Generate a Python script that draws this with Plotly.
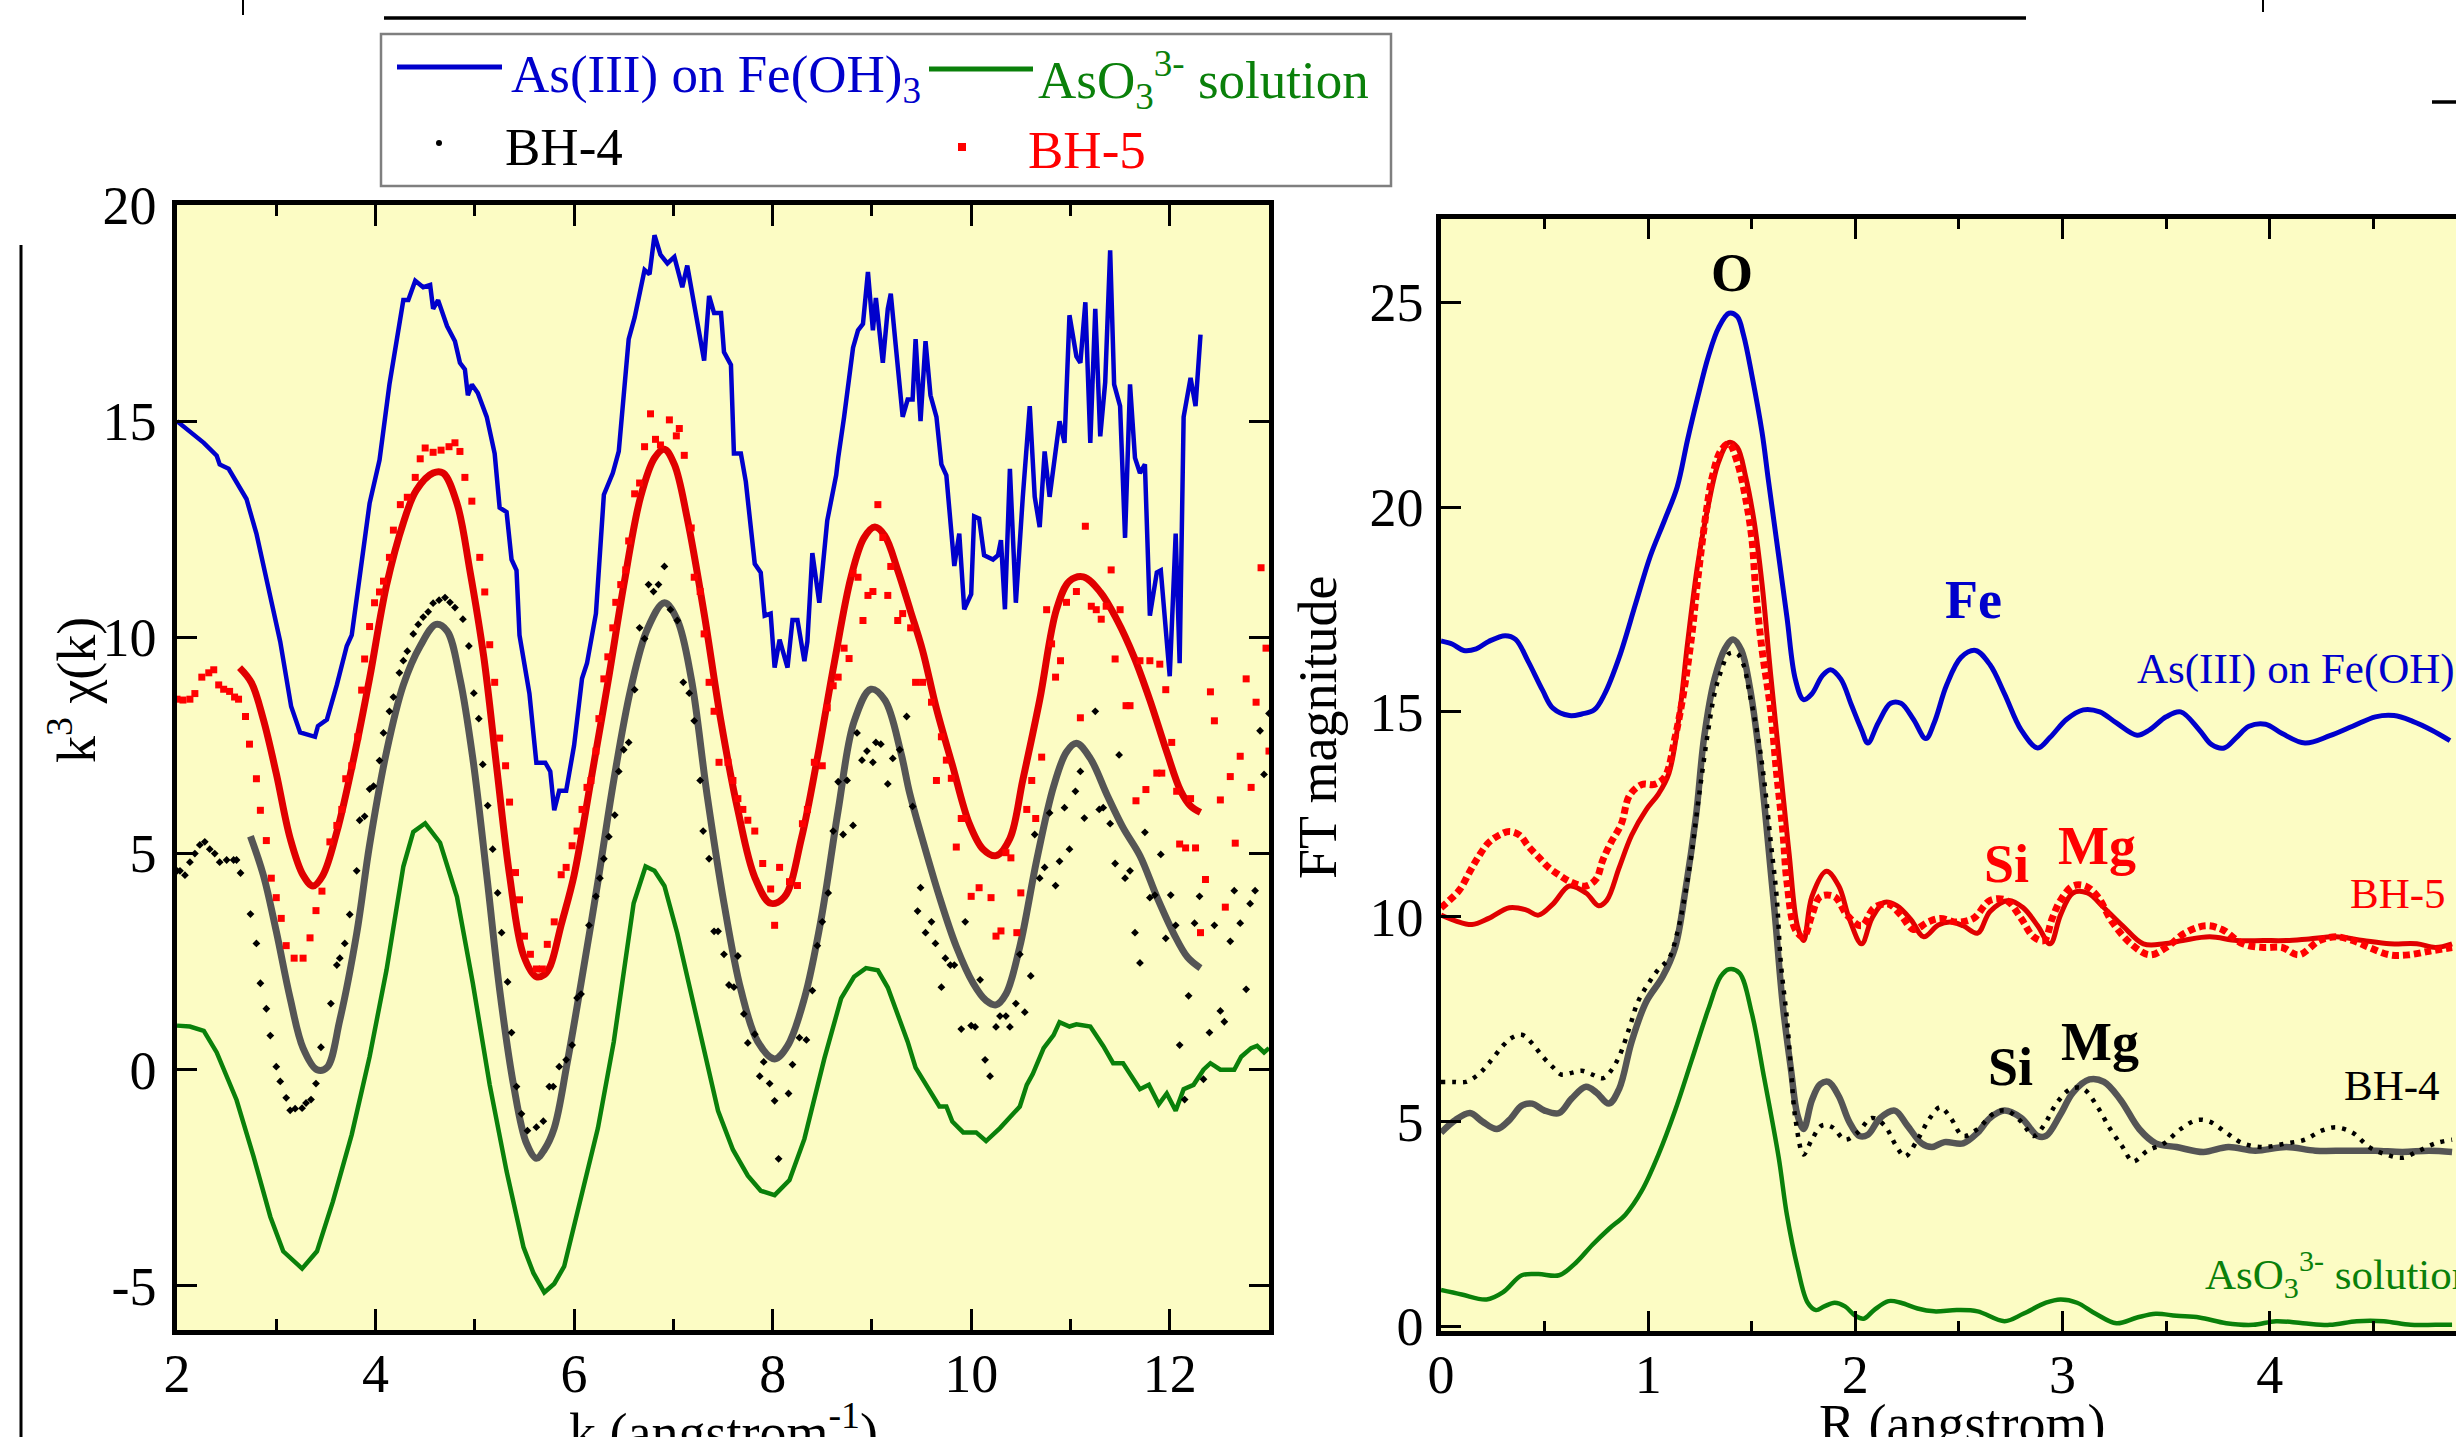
import plotly.graph_objects as go

W, H = 2456, 1437

# ---------------- k-space (left panel) data: (k, k^3 chi) ----------------
fe_k_pts = [
    (2.00, 15.0), (2.13, 14.75), (2.27, 14.5), (2.40, 14.2), (2.43, 14.0), (2.52, 13.9), (2.60, 13.6),
    (2.70, 13.2), (2.80, 12.4), (2.94, 11.0), (3.04, 9.9), (3.15, 8.4), (3.24, 7.8), (3.39, 7.7),
    (3.42, 7.95), (3.51, 8.1), (3.61, 8.9), (3.71, 9.8), (3.76, 10.05), (3.84, 11.4), (3.94, 13.1),
    (4.04, 14.1), (4.14, 15.85), (4.28, 17.8), (4.33, 17.8), (4.40, 18.25), (4.48, 18.1), (4.55, 18.15),
    (4.58, 17.6), (4.63, 17.8), (4.72, 17.2), (4.80, 16.85), (4.85, 16.35), (4.90, 16.2), (4.93, 15.6),
    (4.97, 15.85), (5.03, 15.65), (5.12, 15.1), (5.20, 14.25), (5.25, 13.0), (5.32, 12.9), (5.37, 11.8),
    (5.42, 11.55), (5.45, 10.05), (5.55, 8.7), (5.62, 7.1), (5.71, 7.1), (5.76, 6.9), (5.80, 6.0),
    (5.85, 6.45), (5.92, 6.45), (6.00, 7.5), (6.08, 9.05), (6.13, 9.4), (6.22, 10.55), (6.30, 13.3),
    (6.39, 13.8), (6.45, 14.3), (6.55, 16.9), (6.61, 17.4), (6.71, 18.5), (6.76, 18.4), (6.81, 19.3),
    (6.87, 18.85), (6.94, 18.65), (7.01, 18.8), (7.09, 18.1), (7.14, 18.6), (7.23, 17.4), (7.31, 16.4),
    (7.36, 17.9), (7.41, 17.5), (7.48, 17.5), (7.51, 16.6), (7.58, 16.3), (7.61, 14.25), (7.68, 14.25),
    (7.73, 13.6), (7.82, 11.7), (7.88, 11.5), (7.92, 10.5), (7.98, 10.55), (8.02, 9.3), (8.07, 9.95),
    (8.15, 9.3), (8.20, 10.4), (8.25, 10.4), (8.32, 9.45), (8.35, 9.9), (8.40, 11.95), (8.47, 10.8),
    (8.55, 12.7), (8.64, 13.75), (8.66, 14.15), (8.72, 15.1), (8.81, 16.7), (8.86, 17.1), (8.91, 17.25),
    (8.96, 18.45), (9.01, 17.1), (9.04, 17.85), (9.11, 16.35), (9.16, 17.6), (9.19, 17.95), (9.24, 16.75),
    (9.31, 15.1), (9.36, 15.5), (9.41, 15.5), (9.44, 16.9), (9.49, 15.0), (9.54, 16.85), (9.59, 15.6),
    (9.65, 15.1), (9.70, 14.0), (9.75, 13.75), (9.80, 12.55), (9.83, 11.65), (9.88, 12.4), (9.93, 10.65),
    (10.00, 11.0), (10.03, 12.8), (10.08, 12.75), (10.13, 11.9), (10.22, 11.8), (10.27, 11.9), (10.30, 12.25),
    (10.34, 10.65), (10.39, 13.9), (10.45, 10.8), (10.52, 13.25), (10.59, 15.35), (10.64, 13.25),
    (10.69, 12.55), (10.74, 14.3), (10.79, 13.25), (10.89, 15.0), (10.94, 14.5), (10.99, 17.45),
    (11.06, 16.5), (11.10, 16.35), (11.15, 17.75), (11.20, 14.5), (11.25, 17.6), (11.30, 14.65),
    (11.35, 15.9), (11.40, 18.95), (11.44, 15.85), (11.50, 15.35), (11.55, 12.3), (11.60, 15.85),
    (11.65, 14.15), (11.70, 13.8), (11.75, 14.0), (11.80, 10.5), (11.87, 11.5), (11.91, 11.55),
    (11.96, 10.05), (12.00, 9.1), (12.06, 12.4), (12.10, 9.4), (12.14, 15.1), (12.21, 16.0),
    (12.26, 15.35), (12.31, 17.0),
]

sol_k_pts = [
    (2.00, 1.02), (2.13, 1.0), (2.27, 0.9), (2.40, 0.4), (2.60, -0.7), (2.77, -2.0), (2.94, -3.4),
    (3.07, -4.2), (3.26, -4.6), (3.41, -4.2), (3.57, -3.05), (3.76, -1.5), (3.94, 0.3), (4.11, 2.3),
    (4.28, 4.7), (4.38, 5.5), (4.50, 5.7), (4.65, 5.25), (4.82, 4.0), (4.98, 2.0), (5.15, -0.35),
    (5.32, -2.35), (5.49, -4.1), (5.59, -4.7), (5.70, -5.15), (5.80, -4.95), (5.90, -4.55), (6.05, -3.1),
    (6.24, -1.35), (6.40, 0.65), (6.60, 3.85), (6.72, 4.7), (6.81, 4.6), (6.91, 4.25), (7.04, 3.15),
    (7.24, 1.15), (7.45, -0.95), (7.60, -1.85), (7.75, -2.45), (7.88, -2.8), (8.02, -2.9), (8.17, -2.55),
    (8.32, -1.6), (8.52, 0.25), (8.69, 1.65), (8.82, 2.15), (8.94, 2.35), (9.06, 2.3), (9.16, 1.9),
    (9.28, 1.15), (9.36, 0.65), (9.44, 0.05), (9.58, -0.45), (9.68, -0.85), (9.75, -0.85), (9.81, -1.2),
    (9.92, -1.45), (10.05, -1.45), (10.15, -1.65), (10.29, -1.35), (10.39, -1.1), (10.49, -0.85),
    (10.56, -0.35), (10.62, -0.1), (10.73, 0.5), (10.83, 0.8), (10.89, 1.1), (10.99, 1.0), (11.06, 1.05),
    (11.20, 1.0), (11.33, 0.55), (11.43, 0.15), (11.53, 0.15), (11.64, -0.25), (11.70, -0.45),
    (11.79, -0.35), (11.89, -0.8), (11.97, -0.55), (12.06, -0.95), (12.14, -0.45), (12.24, -0.35),
    (12.34, 0.0), (12.41, 0.15), (12.51, 0.0), (12.65, 0.0), (12.72, 0.3), (12.82, 0.5), (12.88, 0.55),
    (12.95, 0.4), (13.00, 0.5),
]

bh5_fit_k_pts = [
    (2.63, 9.3), (2.75, 8.95), (2.87, 8.1), (3.00, 6.85), (3.14, 5.35), (3.27, 4.5), (3.37, 4.25),
    (3.47, 4.5), (3.61, 5.5), (3.78, 7.2), (3.94, 9.05), (4.11, 11.2), (4.28, 12.65), (4.41, 13.4),
    (4.58, 13.8), (4.68, 13.8), (4.82, 13.1), (4.95, 11.55), (5.09, 9.55), (5.22, 7.0), (5.35, 4.5),
    (5.49, 2.65), (5.62, 2.15), (5.70, 2.2), (5.76, 2.4), (5.87, 3.35), (6.00, 4.5), (6.17, 6.7),
    (6.34, 8.95), (6.50, 11.2), (6.67, 13.25), (6.81, 14.15), (6.91, 14.35), (7.01, 14.0), (7.14, 12.75),
    (7.31, 10.55), (7.48, 8.05), (7.65, 6.0), (7.82, 4.45), (7.98, 3.85), (8.12, 4.0), (8.29, 5.35),
    (8.45, 7.2), (8.62, 9.4), (8.79, 11.4), (8.92, 12.3), (9.03, 12.55), (9.13, 12.35), (9.26, 11.55),
    (9.39, 10.6), (9.51, 9.7), (9.65, 8.35), (9.81, 7.05), (9.98, 5.7), (10.12, 5.1), (10.25, 4.95),
    (10.39, 5.35), (10.52, 6.7), (10.69, 8.55), (10.86, 10.65), (10.99, 11.3), (11.13, 11.4),
    (11.30, 11.05), (11.47, 10.4), (11.64, 9.55), (11.80, 8.55), (11.97, 7.35), (12.11, 6.45),
    (12.21, 6.1), (12.31, 5.95),
]

bh4_fit_k_pts = [
    (2.74, 5.4), (2.87, 4.5), (3.00, 3.2), (3.14, 1.65), (3.27, 0.5), (3.41, 0.0), (3.51, 0.05),
    (3.64, 1.15), (3.81, 3.15), (3.94, 5.2), (4.11, 7.35), (4.28, 8.9), (4.45, 9.8), (4.61, 10.3),
    (4.72, 10.15), (4.85, 9.05), (4.98, 7.2), (5.12, 4.5), (5.25, 1.85), (5.39, -0.35), (5.52, -1.7),
    (5.62, -2.05), (5.70, -1.85), (5.80, -1.35), (5.93, 0.15), (6.07, 2.0), (6.24, 4.35), (6.40, 6.7),
    (6.57, 8.8), (6.74, 10.2), (6.91, 10.8), (7.04, 10.4), (7.18, 9.05), (7.34, 6.35), (7.51, 3.85),
    (7.68, 1.85), (7.85, 0.65), (8.02, 0.25), (8.15, 0.55), (8.32, 1.65), (8.49, 3.5), (8.66, 6.0),
    (8.82, 8.05), (8.99, 8.8), (9.13, 8.55), (9.29, 7.35), (9.38, 6.4), (9.50, 5.4), (9.68, 4.0),
    (9.85, 2.85), (10.02, 2.0), (10.15, 1.6), (10.25, 1.5), (10.35, 1.75), (10.49, 2.85), (10.66, 4.85),
    (10.83, 6.55), (10.96, 7.35), (11.06, 7.55), (11.20, 7.2), (11.37, 6.35), (11.53, 5.6), (11.70, 4.95),
    (11.87, 4.0), (12.04, 3.15), (12.18, 2.6), (12.31, 2.35),
]

bh5_data_k_pts = [
    (2.00, 8.57), (2.06, 8.55), (2.13, 8.57), (2.18, 8.70), (2.25, 9.08), (2.32, 9.18), (2.37, 9.25),
    (2.42, 8.90), (2.47, 8.80), (2.53, 8.75), (2.58, 8.62), (2.62, 8.57), (2.69, 8.17), (2.73, 7.53),
    (2.80, 6.73), (2.84, 6.00), (2.90, 5.30), (2.95, 4.43), (3.00, 3.98), (3.05, 3.50), (3.10, 2.87),
    (3.18, 2.58), (3.27, 2.58), (3.34, 3.05), (3.40, 3.68), (3.46, 4.13), (3.54, 5.27), (3.61, 5.65),
    (3.66, 6.02), (3.70, 6.73), (3.76, 7.03), (3.82, 7.70), (3.86, 8.78), (3.89, 9.50), (3.94, 10.25),
    (3.99, 10.80), (4.04, 11.05), (4.08, 11.30), (4.14, 11.85), (4.18, 12.48), (4.25, 13.07), (4.32, 13.24),
    (4.40, 13.70), (4.45, 14.13), (4.50, 14.38), (4.58, 14.28), (4.66, 14.33), (4.74, 14.41), (4.80, 14.50),
    (4.85, 14.30), (4.90, 13.70), (4.97, 13.15), (5.05, 11.85), (5.10, 11.05), (5.15, 9.83), (5.20, 8.96),
    (5.25, 7.67), (5.31, 7.03), (5.35, 6.19), (5.41, 4.56), (5.45, 3.93), (5.50, 3.09), (5.56, 2.67),
    (5.62, 2.33), (5.68, 2.33), (5.73, 2.90), (5.80, 3.42), (5.87, 4.51), (5.92, 4.68), (5.98, 5.18),
    (6.03, 5.52), (6.08, 6.02), (6.13, 6.53), (6.17, 6.69), (6.22, 7.37), (6.25, 8.12), (6.30, 9.04),
    (6.34, 9.55), (6.39, 10.22), (6.42, 10.81), (6.47, 11.22), (6.52, 11.56), (6.55, 12.23), (6.61, 13.32),
    (6.66, 13.57), (6.71, 14.41), (6.77, 15.17), (6.82, 14.58), (6.87, 14.45), (6.96, 15.03), (7.03, 14.66),
    (7.06, 14.83), (7.11, 14.21), (7.18, 12.53), (7.21, 11.39), (7.27, 11.06), (7.31, 10.08), (7.36, 8.96),
    (7.41, 8.29), (7.46, 7.11), (7.55, 7.11), (7.60, 6.69), (7.65, 6.27), (7.70, 6.02), (7.75, 5.77),
    (7.82, 5.52), (7.90, 4.77), (7.98, 4.18), (8.02, 3.34), (8.07, 4.68), (8.17, 4.35), (8.25, 4.26),
    (8.30, 5.69), (8.35, 6.02), (8.42, 7.11), (8.50, 7.03), (8.55, 8.37), (8.61, 8.88), (8.66, 9.08),
    (8.72, 9.75), (8.77, 9.51), (8.81, 11.48), (8.86, 11.39), (8.91, 10.39), (8.96, 10.97), (9.01, 11.06),
    (9.06, 13.07), (9.11, 12.31), (9.16, 10.97), (9.19, 11.64), (9.26, 10.39), (9.31, 10.55), (9.39, 10.22),
    (9.44, 8.96), (9.51, 8.96), (9.60, 8.50), (9.65, 6.69), (9.70, 7.70), (9.75, 7.16), (9.80, 6.74),
    (9.85, 5.15), (9.90, 5.81), (9.93, 5.81), (10.00, 4.01), (10.08, 4.21), (10.20, 3.98), (10.25, 3.09),
    (10.30, 3.21), (10.35, 5.02), (10.40, 4.90), (10.46, 3.17), (10.50, 4.09), (10.56, 6.02), (10.61, 6.69),
    (10.65, 5.81), (10.71, 7.23), (10.76, 10.64), (10.81, 9.85), (10.85, 9.08), (10.90, 9.46), (10.96, 10.81),
    (11.06, 11.06), (11.10, 8.14), (11.15, 12.57), (11.21, 10.72), (11.26, 10.64), (11.31, 10.42),
    (11.36, 10.72), (11.41, 11.56), (11.45, 9.50), (11.50, 10.64), (11.56, 8.42), (11.60, 8.42),
    (11.66, 6.22), (11.70, 9.46), (11.76, 6.48), (11.80, 9.46), (11.87, 6.86), (11.90, 9.38), (11.92, 6.86),
    (11.96, 8.79), (12.02, 7.57), (12.07, 6.44), (12.10, 5.22), (12.16, 5.13), (12.21, 6.27), (12.26, 5.13),
    (12.31, 3.17), (12.36, 4.40), (12.41, 8.74), (12.45, 8.07), (12.51, 6.24), (12.56, 3.76), (12.61, 6.78),
    (12.66, 5.24), (12.71, 7.25), (12.77, 9.04), (12.82, 6.53), (12.87, 8.50), (12.92, 11.61), (12.97, 9.75),
    (13.00, 7.37),
]

bh4_data_k_pts = [
    (2.00, 4.60), (2.03, 4.60), (2.08, 4.50), (2.13, 4.80), (2.18, 5.00), (2.23, 5.20), (2.28, 5.27),
    (2.33, 5.10), (2.38, 5.00), (2.43, 4.80), (2.50, 4.85), (2.57, 4.85), (2.60, 4.85), (2.64, 4.55),
    (2.74, 3.60), (2.80, 2.92), (2.84, 2.00), (2.90, 1.41), (2.94, 0.79), (3.00, 0.07), (3.04, -0.27),
    (3.10, -0.65), (3.14, -0.94), (3.19, -0.90), (3.26, -0.89), (3.30, -0.77), (3.35, -0.69), (3.40, -0.32),
    (3.45, 0.52), (3.55, 1.53), (3.61, 2.42), (3.64, 2.58), (3.69, 2.92), (3.74, 3.59), (3.81, 4.60),
    (3.84, 5.77), (3.89, 5.86), (3.94, 6.49), (3.98, 6.56), (4.04, 7.15), (4.08, 7.79), (4.14, 8.29),
    (4.18, 8.62), (4.24, 9.18), (4.28, 9.46), (4.32, 9.68), (4.38, 10.08), (4.43, 10.30), (4.48, 10.47),
    (4.53, 10.59), (4.58, 10.79), (4.64, 10.86), (4.70, 10.92), (4.75, 10.81), (4.80, 10.69), (4.88, 10.42),
    (4.94, 9.80), (4.99, 8.71), (5.04, 8.12), (5.08, 7.06), (5.13, 6.11), (5.18, 5.10), (5.23, 4.09),
    (5.27, 3.17), (5.33, 2.03), (5.37, 0.86), (5.42, -0.39), (5.47, -1.02), (5.53, -1.41), (5.62, -1.33),
    (5.69, -1.19), (5.75, -0.39), (5.79, -0.39), (5.85, 0.07), (5.92, 0.23), (5.98, 0.57), (6.03, 1.66),
    (6.07, 1.75), (6.15, 3.34), (6.22, 4.01), (6.26, 4.43), (6.30, 4.88), (6.35, 5.39), (6.41, 5.89),
    (6.45, 6.90), (6.50, 7.40), (6.55, 7.57), (6.61, 8.79), (6.66, 10.22), (6.71, 9.97), (6.75, 11.22),
    (6.80, 11.06), (6.85, 11.22), (6.91, 11.64), (6.97, 10.64), (7.04, 10.39), (7.10, 8.96), (7.16, 8.71),
    (7.21, 8.07), (7.27, 6.69), (7.30, 5.52), (7.36, 4.88), (7.41, 3.20), (7.45, 3.20), (7.51, 2.67),
    (7.56, 1.96), (7.61, 1.91), (7.65, 2.63), (7.71, 1.29), (7.75, 0.62), (7.82, 0.82), (7.87, -0.15),
    (7.91, 0.18), (7.97, -0.32), (8.02, -0.72), (8.06, -2.06), (8.16, -0.55), (8.20, 0.12), (8.27, 0.74),
    (8.34, 0.69), (8.40, 1.83), (8.45, 2.87), (8.50, 3.42), (8.56, 4.09), (8.61, 5.52), (8.66, 6.66),
    (8.71, 5.44), (8.75, 6.69), (8.81, 5.65), (8.85, 7.79), (8.90, 7.16), (8.95, 7.37), (9.01, 7.11),
    (9.04, 7.57), (9.09, 7.53), (9.16, 6.61), (9.21, 7.20), (9.28, 7.40), (9.35, 8.17), (9.41, 6.09),
    (9.46, 3.67), (9.49, 4.21), (9.54, 3.17), (9.60, 3.42), (9.64, 2.92), (9.70, 1.91), (9.74, 2.58),
    (9.79, 2.42), (9.83, 2.42), (9.90, 0.94), (9.94, 3.42), (10.00, 1.02), (10.04, 0.99), (10.09, 2.08),
    (10.14, 0.23), (10.19, -0.15), (10.25, 0.99), (10.29, 1.24), (10.35, 1.24), (10.39, 0.99), (10.45, 1.53),
    (10.49, 2.67), (10.54, 1.33), (10.60, 2.17), (10.64, 5.44), (10.69, 4.43), (10.74, 4.68), (10.79, 5.94),
    (10.85, 4.26), (10.89, 4.82), (10.94, 6.06), (10.99, 5.10), (11.05, 6.44), (11.10, 6.90), (11.14, 5.82),
    (11.25, 8.29), (11.29, 6.02), (11.33, 6.06), (11.40, 5.69), (11.45, 4.77), (11.49, 7.28), (11.55, 4.43),
    (11.60, 4.60), (11.65, 3.17), (11.70, 2.47), (11.75, 5.49), (11.80, 3.98), (11.85, 4.04), (11.91, 4.98),
    (11.96, 3.04), (12.01, 4.04), (12.06, 3.34), (12.10, 0.57), (12.15, -0.69), (12.19, 1.71), (12.25, 3.39),
    (12.30, 4.01), (12.34, -0.22), (12.40, 0.86), (12.45, 3.34), (12.51, 1.36), (12.55, 1.11), (12.61, 2.97),
    (12.65, 4.14), (12.71, 3.39), (12.77, 1.86), (12.81, 3.84), (12.86, 4.14), (12.91, 7.84), (12.95, 6.83),
    (13.00, 8.24),
]

# ---------------- R-space (right panel) data: (R, FT magnitude) ----------------
fe_r_pts = [
    (0.00, 16.73), (0.056, 16.65), (0.11, 16.5), (0.17, 16.54), (0.23, 16.72), (0.31, 16.86), (0.36, 16.77),
    (0.42, 16.24), (0.49, 15.53), (0.54, 15.09), (0.62, 14.91), (0.68, 14.95), (0.74, 15.05), (0.79, 15.44),
    (0.86, 16.33), (0.94, 17.65), (1.01, 18.8), (1.08, 19.69), (1.14, 20.49), (1.19, 21.64), (1.24, 22.7),
    (1.29, 23.67), (1.34, 24.38), (1.39, 24.73), (1.43, 24.65), (1.46, 24.2), (1.50, 23.23), (1.55, 21.81),
    (1.58, 20.66), (1.63, 18.8), (1.67, 17.3), (1.71, 15.8), (1.75, 15.3), (1.79, 15.44), (1.84, 15.88),
    (1.88, 16.03), (1.93, 15.8), (1.98, 15.18), (2.03, 14.56), (2.06, 14.24), (2.11, 14.73), (2.17, 15.21),
    (2.22, 15.21), (2.28, 14.82), (2.34, 14.35), (2.38, 14.73), (2.44, 15.65), (2.51, 16.33), (2.58, 16.5),
    (2.65, 16.15), (2.72, 15.44), (2.80, 14.56), (2.88, 14.12), (2.94, 14.38), (3.02, 14.82), (3.10, 15.05),
    (3.18, 15.0), (3.26, 14.73), (3.36, 14.43), (3.42, 14.56), (3.50, 14.88), (3.57, 15.0), (3.66, 14.56),
    (3.72, 14.2), (3.78, 14.12), (3.84, 14.38), (3.90, 14.65), (3.98, 14.7), (4.06, 14.47), (4.17, 14.24),
    (4.29, 14.42), (4.40, 14.65), (4.51, 14.88), (4.60, 14.91), (4.69, 14.77), (4.78, 14.56), (4.87, 14.3),
]

bh5_fit_r_pts = [
    (0.00, 10.04), (0.07, 9.9), (0.15, 9.81), (0.23, 9.96), (0.33, 10.22), (0.41, 10.17), (0.47, 10.04),
    (0.54, 10.31), (0.62, 10.75), (0.70, 10.58), (0.76, 10.27), (0.80, 10.4), (0.86, 11.2), (0.92, 11.99),
    (0.99, 12.61), (1.05, 13.0), (1.10, 13.5), (1.15, 14.91), (1.19, 16.68), (1.24, 18.63), (1.29, 20.04),
    (1.34, 21.1), (1.39, 21.58), (1.43, 21.46), (1.47, 20.75), (1.51, 19.69), (1.55, 18.1), (1.59, 15.97),
    (1.64, 13.5), (1.68, 11.55), (1.72, 9.78), (1.75, 9.42), (1.79, 10.49), (1.86, 11.11), (1.92, 10.75),
    (1.97, 9.96), (2.03, 9.34), (2.08, 9.96), (2.14, 10.35), (2.20, 10.27), (2.27, 9.92), (2.33, 9.51),
    (2.40, 9.8), (2.46, 9.87), (2.52, 9.78), (2.59, 9.6), (2.65, 10.13), (2.74, 10.4), (2.81, 10.22),
    (2.88, 9.78), (2.94, 9.34), (2.99, 10.04), (3.05, 10.58), (3.12, 10.58), (3.20, 10.22), (3.29, 9.78),
    (3.39, 9.34), (3.49, 9.34), (3.58, 9.42), (3.71, 9.51), (3.84, 9.42), (3.97, 9.42), (4.08, 9.42),
    (4.19, 9.46), (4.32, 9.51), (4.45, 9.42), (4.58, 9.34), (4.71, 9.34), (4.80, 9.25), (4.88, 9.34),
]

bh5_data_r_pts = [
    (0.00, 10.22), (0.04, 10.4), (0.09, 10.66), (0.14, 11.11), (0.18, 11.46), (0.23, 11.81), (0.28, 11.99),
    (0.33, 12.08), (0.38, 11.99), (0.42, 11.73), (0.47, 11.46), (0.52, 11.2), (0.57, 11.02), (0.63, 10.84),
    (0.70, 10.75), (0.75, 10.93), (0.78, 11.37), (0.82, 11.81), (0.87, 12.26), (0.91, 12.96), (0.97, 13.23),
    (1.03, 13.23), (1.08, 13.41), (1.13, 14.38), (1.17, 15.44), (1.21, 16.86), (1.24, 18.27), (1.28, 19.87),
    (1.31, 20.75), (1.35, 21.37), (1.39, 21.55), (1.43, 21.1), (1.47, 20.22), (1.50, 19.25), (1.52, 17.92),
    (1.55, 16.5), (1.59, 15.09), (1.62, 13.5), (1.65, 12.08), (1.67, 10.84), (1.71, 9.69), (1.75, 9.51),
    (1.79, 10.04), (1.83, 10.49), (1.90, 10.49), (1.96, 10.04), (2.03, 9.78), (2.09, 10.22), (2.16, 10.31),
    (2.22, 10.04), (2.28, 9.69), (2.35, 9.87), (2.41, 9.96), (2.49, 9.87), (2.57, 9.96), (2.65, 10.4),
    (2.73, 10.4), (2.80, 9.96), (2.86, 9.51), (2.91, 9.42), (2.95, 9.96), (2.99, 10.4), (3.05, 10.75),
    (3.11, 10.75), (3.17, 10.49), (3.24, 9.87), (3.33, 9.34), (3.42, 9.07), (3.50, 9.25), (3.59, 9.6),
    (3.69, 9.78), (3.77, 9.69), (3.87, 9.34), (3.97, 9.25), (4.06, 9.25), (4.14, 9.07), (4.24, 9.42),
    (4.32, 9.51), (4.40, 9.42), (4.48, 9.25), (4.58, 9.07), (4.67, 9.07), (4.77, 9.16), (4.88, 9.25),
]

bh4_fit_r_pts = [
    (0.00, 4.73), (0.07, 5.04), (0.14, 5.21), (0.20, 5.0), (0.27, 4.82), (0.33, 5.04), (0.39, 5.39),
    (0.44, 5.44), (0.50, 5.27), (0.57, 5.21), (0.63, 5.56), (0.70, 5.85), (0.75, 5.71), (0.81, 5.44),
    (0.86, 5.8), (0.92, 6.95), (0.99, 7.92), (1.07, 8.54), (1.13, 9.25), (1.18, 10.66), (1.23, 12.43),
    (1.27, 14.38), (1.32, 15.8), (1.37, 16.54), (1.41, 16.77), (1.45, 16.5), (1.49, 15.62), (1.53, 14.2),
    (1.57, 12.26), (1.61, 10.13), (1.65, 7.83), (1.69, 6.24), (1.72, 5.17), (1.75, 4.82), (1.79, 5.52),
    (1.83, 5.91), (1.87, 5.97), (1.92, 5.62), (1.97, 5.0), (2.02, 4.65), (2.06, 4.68), (2.12, 5.09),
    (2.19, 5.27), (2.25, 4.91), (2.32, 4.47), (2.37, 4.38), (2.43, 4.5), (2.52, 4.47), (2.59, 4.73),
    (2.65, 5.09), (2.72, 5.27), (2.80, 5.09), (2.88, 4.65), (2.92, 4.65), (2.99, 5.18), (3.05, 5.71),
    (3.13, 6.03), (3.20, 5.97), (3.28, 5.53), (3.37, 4.82), (3.45, 4.47), (3.55, 4.38), (3.68, 4.26),
    (3.80, 4.38), (3.93, 4.29), (4.08, 4.38), (4.22, 4.29), (4.37, 4.29), (4.51, 4.29), (4.64, 4.26),
    (4.77, 4.29), (4.88, 4.26),
]

bh4_data_r_pts = [
    (0.00, 5.97), (0.06, 5.97), (0.12, 5.97), (0.18, 6.15), (0.23, 6.42), (0.30, 6.86), (0.34, 7.04),
    (0.39, 7.12), (0.44, 6.91), (0.49, 6.59), (0.54, 6.33), (0.58, 6.15), (0.63, 6.19), (0.68, 6.24),
    (0.73, 6.15), (0.78, 6.06), (0.82, 6.24), (0.86, 6.59), (0.91, 7.3), (0.95, 7.92), (1.00, 8.36),
    (1.05, 8.72), (1.10, 8.98), (1.14, 9.6), (1.17, 10.31), (1.21, 11.55), (1.23, 12.35), (1.26, 13.5),
    (1.29, 14.56), (1.32, 15.44), (1.35, 15.97), (1.39, 16.42), (1.43, 16.42), (1.46, 16.15), (1.49, 15.44),
    (1.53, 14.38), (1.56, 13.32), (1.59, 11.9), (1.62, 10.49), (1.64, 8.89), (1.67, 7.48), (1.69, 6.24),
    (1.71, 5.09), (1.75, 4.2), (1.79, 4.56), (1.84, 4.91), (1.89, 4.86), (1.95, 4.56), (2.01, 4.73),
    (2.08, 5.09), (2.14, 4.91), (2.20, 4.38), (2.24, 4.15), (2.30, 4.56), (2.36, 5.09), (2.41, 5.35),
    (2.46, 5.09), (2.52, 4.65), (2.59, 4.82), (2.67, 5.21), (2.73, 5.27), (2.80, 5.0), (2.86, 4.65),
    (2.91, 4.91), (2.97, 5.44), (3.04, 5.8), (3.10, 5.8), (3.17, 5.35), (3.23, 4.82), (3.29, 4.38),
    (3.34, 4.03), (3.41, 4.29), (3.49, 4.47), (3.57, 4.82), (3.65, 5.04), (3.71, 5.0), (3.79, 4.73),
    (3.87, 4.47), (3.97, 4.38), (4.08, 4.47), (4.17, 4.56), (4.25, 4.78), (4.32, 4.86), (4.40, 4.73),
    (4.48, 4.38), (4.56, 4.2), (4.64, 4.12), (4.72, 4.29), (4.80, 4.47), (4.88, 4.56),
]

sol_r_pts = [
    (0.00, 0.89), (0.10, 0.78), (0.22, 0.66), (0.30, 0.84), (0.39, 1.25), (0.47, 1.28), (0.57, 1.25),
    (0.65, 1.55), (0.73, 1.99), (0.81, 2.38), (0.89, 2.73), (0.97, 3.32), (1.05, 4.2), (1.13, 5.27),
    (1.21, 6.5), (1.29, 7.74), (1.35, 8.54), (1.39, 8.72), (1.44, 8.63), (1.50, 7.65), (1.56, 6.06),
    (1.63, 4.12), (1.67, 2.71), (1.72, 1.46), (1.77, 0.58), (1.81, 0.4), (1.85, 0.49), (1.90, 0.58),
    (1.95, 0.49), (2.00, 0.26), (2.04, 0.19), (2.09, 0.4), (2.16, 0.62), (2.22, 0.58), (2.30, 0.44),
    (2.38, 0.37), (2.49, 0.4), (2.59, 0.37), (2.72, 0.13), (2.81, 0.31), (2.92, 0.58), (2.99, 0.66),
    (3.07, 0.58), (3.16, 0.31), (3.26, 0.08), (3.36, 0.22), (3.45, 0.31), (3.55, 0.26), (3.66, 0.22),
    (3.79, 0.08), (3.92, 0.04), (4.03, 0.13), (4.16, 0.08), (4.29, 0.04), (4.42, 0.13), (4.55, 0.13),
    (4.68, 0.04), (4.80, 0.04), (4.88, 0.04),
]

# tick labels
k_ticks = [2, 4, 6, 8, 10, 12]
chi_ticks = [-5, 0, 5, 10, 15, 20]
chi_ticktext = ["-5", "0", "5", "10", "15", "20"]
r_ticks = [0, 1, 2, 3, 4]
ft_ticks = [0, 5, 10, 15, 20, 25]

# ---------------- styling ----------------
BLUE = "#0000CC"
GREEN = "#0A800A"
RED = "#FF0000"
RED_FIT = "#E00000"
GRAY = "#555555"
BLACK = "#000000"
BG = "#FCFCC4"
FONT = "Liberation Serif"


def unz(pts):
    return [p[0] for p in pts], [p[1] for p in pts]


def px(x):
    return x / W


def py(y):
    return 1 - y / H


fig = go.Figure()

# ----- left panel -----
x, y = unz(fe_k_pts)
fig.add_trace(go.Scatter(x=x, y=y, mode="lines", line=dict(color=BLUE, width=4.5), xaxis="x", yaxis="y"))
x, y = unz(sol_k_pts)
fig.add_trace(go.Scatter(x=x, y=y, mode="lines", line=dict(color=GREEN, width=4.5), xaxis="x", yaxis="y"))
x, y = unz(bh5_fit_k_pts)
fig.add_trace(go.Scatter(x=x, y=y, mode="lines", line=dict(color=RED_FIT, width=7, shape="spline"),
                         xaxis="x", yaxis="y"))
x, y = unz(bh4_fit_k_pts)
fig.add_trace(go.Scatter(x=x, y=y, mode="lines", line=dict(color=GRAY, width=7, shape="spline"),
                         xaxis="x", yaxis="y"))
x, y = unz(bh5_data_k_pts)
fig.add_trace(go.Scatter(x=x, y=y, mode="markers", marker=dict(symbol="square", size=7, color=RED),
                         xaxis="x", yaxis="y"))
x, y = unz(bh4_data_k_pts)
fig.add_trace(go.Scatter(x=x, y=y, mode="markers", marker=dict(symbol="diamond", size=6, color=BLACK),
                         xaxis="x", yaxis="y"))

# ----- right panel -----
x, y = unz(fe_r_pts)
fig.add_trace(go.Scatter(x=x, y=y, mode="lines", line=dict(color=BLUE, width=5, shape="spline"),
                         xaxis="x2", yaxis="y2"))
x, y = unz(sol_r_pts)
fig.add_trace(go.Scatter(x=x, y=y, mode="lines", line=dict(color=GREEN, width=4.5, shape="spline"),
                         xaxis="x2", yaxis="y2"))
x, y = unz(bh5_fit_r_pts)
fig.add_trace(go.Scatter(x=x, y=y, mode="lines", line=dict(color=RED_FIT, width=5, shape="spline"),
                         xaxis="x2", yaxis="y2"))
x, y = unz(bh5_data_r_pts)
fig.add_trace(go.Scatter(x=x, y=y, mode="lines", line=dict(color=RED, width=7, dash="7px,4px", shape="spline"),
                         xaxis="x2", yaxis="y2"))
x, y = unz(bh4_fit_r_pts)
fig.add_trace(go.Scatter(x=x, y=y, mode="lines", line=dict(color=GRAY, width=6.5, shape="spline"),
                         xaxis="x2", yaxis="y2"))
x, y = unz(bh4_data_r_pts)
fig.add_trace(go.Scatter(x=x, y=y, mode="lines", line=dict(color=BLACK, width=4.5, dash="4px,7px", shape="spline"),
                         xaxis="x2", yaxis="y2"))

tickfont = dict(family=FONT, size=54, color="black")
ax_common = dict(showgrid=False, zeroline=False, showline=True, linecolor="black", linewidth=4.5,
                 ticks="inside", tickcolor="black", tickwidth=3, tickfont=tickfont, automargin=False)

fig.update_layout(
    width=W, height=H, margin=dict(l=0, r=0, t=0, b=0, autoexpand=False),
    paper_bgcolor="white", plot_bgcolor=BG, showlegend=False,
    xaxis=dict(**ax_common, domain=[px(177), px(1269)], range=[2, 13], anchor="y",
               tickmode="array", tickvals=k_ticks, ticklen=21, mirror="ticks", ticklabelstandoff=-8,
               minor=dict(tickmode="array", tickvals=[3, 5, 7, 9, 11, 13], ticklen=11, tickwidth=3,
                          ticks="inside", tickcolor="black")),
    yaxis=dict(**ax_common, domain=[py(1330), py(205)], range=[-6.02, 20], anchor="x",
               tickmode="array", tickvals=chi_ticks, ticktext=chi_ticktext, ticklen=20,
               mirror="ticks", ticklabelstandoff=5),
    xaxis2=dict(**ax_common, domain=[px(1441), 1.0], range=[0, 4.899], anchor="y2",
                tickmode="array", tickvals=r_ticks, ticklen=20, mirror="ticks", ticklabelstandoff=-8,
                minor=dict(tickmode="array", tickvals=[0.5, 1.5, 2.5, 3.5, 4.5], ticklen=10, tickwidth=3,
                           ticks="inside", tickcolor="black")),
    yaxis2=dict(**ax_common, domain=[py(1331), py(219)], range=[-0.11, 27.03], anchor="x2",
                tickmode="array", tickvals=ft_ticks, ticklen=20, mirror=False, ticklabelstandoff=2),
)


def pann(text, x, y, color, size, xanchor="center", yanchor="middle", angle=0):
    return dict(text=text, x=px(x), y=py(y), xref="paper", yref="paper", xanchor=xanchor,
                yanchor=yanchor, textangle=angle, showarrow=False,
                font=dict(family=FONT, size=size, color=color))


ann = []
# axis titles
ann.append(pann("k<sup>3</sup> χ(k)", 73, 690, BLACK, 54, angle=-90))
ann.append(pann("k (angstrom<sup>-1</sup>)", 723, 1392, BLACK, 54, yanchor="top"))
ann.append(pann("FT magnitude", 1318, 727, BLACK, 54, angle=-90))
ann.append(pann("R (angstrom)", 1962, 1392, BLACK, 54, yanchor="top"))

# legend texts
LF = 53
ann.append(pann("As(III) on Fe(OH)<sub>3</sub>", 509, 78, BLUE, LF, xanchor="left"))
ann.append(pann("AsO<sub>3</sub><sup>3-</sup> solution", 1036, 80, GREEN, LF, xanchor="left"))
ann.append(pann("BH-4", 503, 147, BLACK, LF, xanchor="left"))
ann.append(pann("BH-5", 1026, 150, RED, LF, xanchor="left"))


# right-panel labels
def rlab(text, x, y, color, size, bold=False, anchor="center"):
    t = "<b>%s</b>" % text if bold else text
    return dict(text=t, x=x, y=y, xref="x2", yref="y2", xanchor=anchor, yanchor="middle", showarrow=False,
                font=dict(family=FONT, size=size, color=color))


ann += [
    rlab("O", 1.405, 25.7, BLACK, 54, True),
    rlab("Fe", 2.57, 17.74, BLUE, 54, True),
    rlab("As(III) on Fe(OH)<sub>3</sub>", 3.35, 15.97, BLUE, 43, anchor="left"),
    rlab("Si", 2.73, 11.28, RED, 54, True),
    rlab("Mg", 3.165, 11.73, RED, 54, True),
    rlab("BH-5", 4.38, 10.58, RED, 43, anchor="left"),
    rlab("Si", 2.75, 6.33, BLACK, 54, True),
    rlab("Mg", 3.18, 6.95, BLACK, 54, True),
    rlab("BH-4", 4.35, 5.88, BLACK, 43, anchor="left"),
    rlab("AsO<sub>3</sub><sup>3-</sup> solution", 3.68, 1.28, GREEN, 43, anchor="left"),
]
fig.update_layout(annotations=ann)

shapes = []
# legend frame and samples
shapes.append(dict(type="rect", xref="paper", yref="paper", x0=px(381), x1=px(1391), y0=py(186), y1=py(34),
                   line=dict(color="#7F7F7F", width=2.5), fillcolor="white", layer="above"))
shapes.append(dict(type="line", xref="paper", yref="paper", x0=px(397), x1=px(502), y0=py(67), y1=py(67),
                   line=dict(color=BLUE, width=5)))
shapes.append(dict(type="line", xref="paper", yref="paper", x0=px(929), x1=px(1033), y0=py(69), y1=py(69),
                   line=dict(color=GREEN, width=5)))
shapes.append(dict(type="circle", xref="paper", yref="paper", x0=px(436), x1=px(442), y0=py(146), y1=py(140),
                   line=dict(width=0), fillcolor=BLACK))
shapes.append(dict(type="rect", xref="paper", yref="paper", x0=px(958), x1=px(966), y0=py(151), y1=py(143),
                   line=dict(width=0), fillcolor=RED))
# cropped frame remnants
for (x0, y0, x1, y1, w) in [(384, 18, 2026, 18, 3.5), (243, 0, 243, 15, 2), (2263, 0, 2263, 12, 2),
                            (2432, 102, 2456, 102, 3.5), (21, 245, 21, 1437, 3)]:
    shapes.append(dict(type="line", xref="paper", yref="paper", x0=px(x0), x1=px(x1), y0=py(y0), y1=py(y1),
                       line=dict(color="black", width=w)))
fig.update_layout(shapes=shapes)

fig.write_html("out.html")
